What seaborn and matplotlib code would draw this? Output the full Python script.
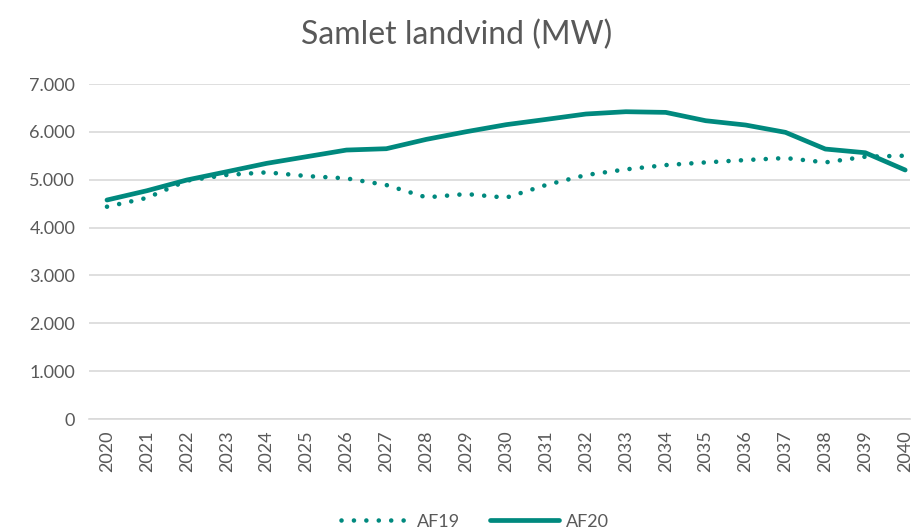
import matplotlib
matplotlib.use("Agg")
import matplotlib.pyplot as plt
import seaborn as sns
import pandas as pd
from matplotlib.ticker import FuncFormatter

years = [str(y) for y in range(2020, 2041)]
af19 = [4436, 4620, 4980, 5100, 5154, 5077, 5028, 4889, 4631, 4701, 4625,
        4889, 5098, 5216, 5306, 5362, 5411, 5453, 5362, 5481, 5502]
af20 = [4576, 4770, 4994, 5167, 5342, 5481, 5620, 5648, 5843, 6003, 6150,
        6260, 6373, 6421, 6407, 6233, 6143, 5990, 5641, 5564, 5203]

sns.set_theme(style="white")
plt.rcParams['font.family'] = ['Lato', 'DejaVu Sans']

teal = "#00897E"
grey_text = "#595959"

fig = plt.figure(figsize=(9.14, 5.31), dpi=100)
ax = fig.add_axes([0.0974, 0.2109, 0.8982, 0.6309])

df = pd.DataFrame({"x": range(len(years)), "AF19": af19, "AF20": af20})

sns.lineplot(data=df, x="x", y="AF19", ax=ax, color=teal, linewidth=3.3,
             linestyle=(0, (0.01, 2.7)), dash_capstyle="round", label="AF19")
sns.lineplot(data=df, x="x", y="AF20", ax=ax, color=teal, linewidth=3.4,
             label="AF20")
ax.lines[0].set_dash_capstyle("round")

ax.set_ylim(0, 7000)
ax.set_xlim(-0.45, 20.12)
ax.set_yticks(range(0, 7001, 1000))
ax.yaxis.set_major_formatter(FuncFormatter(lambda v, p: f"{int(v):,}".replace(",", ".")))
ax.set_xticks(range(len(years)))
ax.set_xticklabels(years, rotation=90)
ax.tick_params(axis="both", colors=grey_text, labelsize=13, length=0)
ax.tick_params(axis="x", pad=8)
ax.tick_params(axis="y", pad=10)
ax.grid(axis="y", color="#D9D9D9", linewidth=1.2)
ax.set_axisbelow(True)
for s in ["top", "right", "left"]:
    ax.spines[s].set_visible(False)
ax.spines["bottom"].set_color("#D9D9D9")
ax.spines["bottom"].set_linewidth(1.2)
ax.set_xlabel("")
ax.set_ylabel("")

fig.text(0.5, 0.934, "Samlet landvind (MW)", ha="center", va="center",
         fontsize=23, color=grey_text)

leg = ax.legend(loc="upper center", bbox_to_anchor=(0.47, -0.25), ncol=2,
                frameon=False, fontsize=13, handlelength=3.8,
                columnspacing=1.7, handletextpad=0.4, borderpad=0.1)
for t in leg.get_texts():
    t.set_color(grey_text)

fig.savefig("out.png", dpi=100)
